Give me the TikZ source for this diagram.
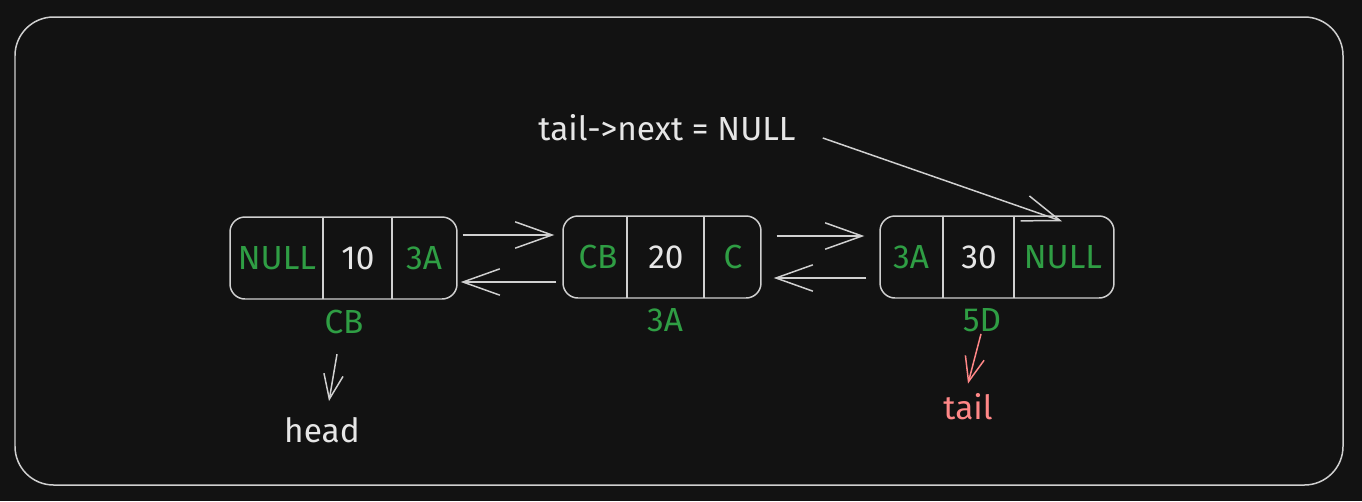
\documentclass[tikz,border=0pt]{standalone}
\usepackage{fontspec}
\setmainfont{Fira Sans}
\usetikzlibrary{arrows.meta}
\definecolor{bgc}{HTML}{121212}
\definecolor{edge}{HTML}{D0D0D0}
\definecolor{txt}{HTML}{E6E6E6}
\definecolor{grn}{HTML}{2F9E44}
\definecolor{rd}{HTML}{FF8787}
\begin{document}
\begin{tikzpicture}[x=0.02cm,y=-0.02cm,
    box/.style={draw=edge, line width=0.85pt, rounded corners=8.5pt, minimum height=1.64cm},
    cellline/.style={draw=edge, line width=0.85pt},
    addr/.style={text=grn, font=\fontsize{19}{22}\selectfont},
    val/.style={text=txt, font=\fontsize{19}{22}\selectfont},
    link/.style={draw=edge, line width=0.85pt, -{Straight Barb[length=21pt,width=15pt]}},
    ptr/.style={line width=0.85pt, -{Straight Barb[length=14pt,width=11pt]}}]
  % background and frame
  \fill[bgc] (0,0) rectangle (1362,501);
  \draw[edge, line width=0.85pt, rounded corners=22pt] (15,17) rectangle (1343,485);

  % first node (CB)
  \node[box, minimum width=4.54cm] (n1) at (343.5,258) {};
  \draw[cellline] (323,217) -- (323,299);
  \draw[cellline] (392,217) -- (392,299);
  \node[addr] (n1p) at (277,258) {NULL};
  \node[val]  (n1v) at (358,258) {10};
  \node[addr] (n1n) at (424,258) {3A};
  \node[addr] (a1) at (344,322) {CB};

  % second node (3A)
  \node[box, minimum width=3.96cm] (n2) at (662,257) {};
  \draw[cellline] (627,216) -- (627,298);
  \draw[cellline] (704,216) -- (704,298);
  \node[addr] (n2p) at (598,257) {CB};
  \node[val]  (n2v) at (666,257) {20};
  \node[addr] (n2n) at (733,257) {C};
  \node[addr] (a2) at (665,320) {3A};

  % third node (5D)
  \node[box, minimum width=4.68cm] (n3) at (997,257) {};
  \draw[cellline] (943,216) -- (943,298);
  \draw[cellline] (1014,216) -- (1014,298);
  \node[addr] (n3p) at (911,257) {3A};
  \node[val]  (n3v) at (979,257) {30};
  \node[addr] (n3n) at (1063,257) {NULL};
  \node[addr] (a3) at (982,320) {5D};

  % next / prev links
  \draw[link] ([shift={(5,-23)}]n1.east) -- ([shift={(-8,-22)}]n2.west);
  \draw[link] ([shift={(-6,25)}]n2.west) -- ([shift={(3,24)}]n1.east);
  \draw[link] ([shift={(15,-21)}]n2.east) -- ([shift={(-15,-21)}]n3.west);
  \draw[link] ([shift={(-13,21)}]n3.west) -- ([shift={(12,21)}]n2.east);

  % head and tail
  \node[val] (head) at (322,430) {head};
  \draw[ptr, edge] ([shift={(-7,14)}]a1.south) -- ([shift={(7,-10)}]head.north);
  \node[text=rd, font=\fontsize{19}{22}\selectfont] (tail) at (968,407) {tail};
  \draw[ptr, rd] ([shift={(-1,-4)}]a3.south) -- ([shift={(0,-4)}]tail.north);

  % note on the last pointer
  \node[val] (note) at (667,128) {tail->next = NULL};
  \draw[link] ([shift={(21,10)}]note.east) -- ([shift={(65,6)}]n3.north);
\end{tikzpicture}
\end{document}
